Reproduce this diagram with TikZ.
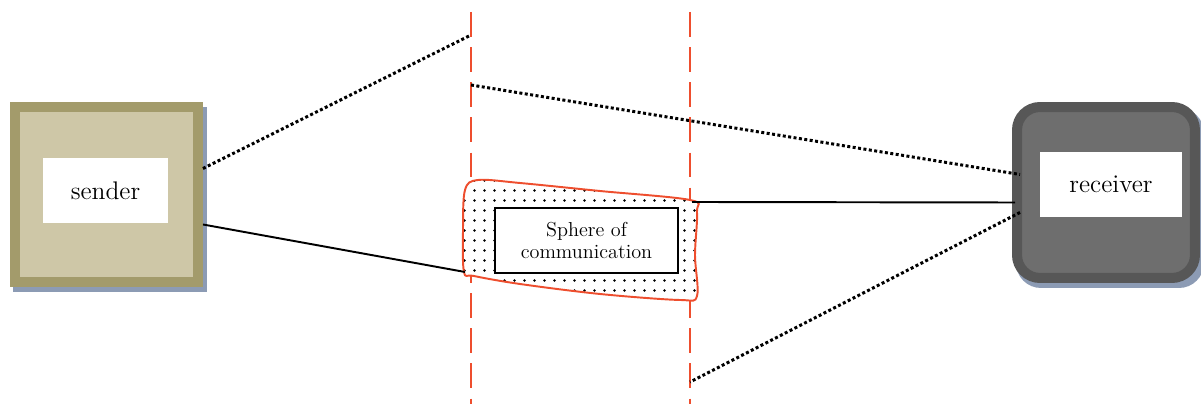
\documentclass[tikz,border=0pt]{standalone}
\usetikzlibrary{calc,patterns.meta}
\definecolor{olivebd}{HTML}{A39B6B}
\definecolor{beige}{HTML}{CEC7A7}
\definecolor{shadowc}{HTML}{8C9BB4}
\definecolor{darkbd}{HTML}{575757}
\definecolor{darkfill}{HTML}{6E6E6E}
\definecolor{redline}{HTML}{EE4E2E}
\begin{document}
\begin{tikzpicture}[x=0.02cm,y=-0.02cm,
  labelbox/.style={fill=white, draw=none, inner sep=0pt, font=\fontsize{14.5}{17}\selectfont},
  boundary/.style={draw=redline, line width=1.6pt, dash pattern=on 14pt off 6pt},
  dotline/.style={line width=1.7pt, dash pattern=on 1.7pt off 1.4pt},
  solidline/.style={line width=1.1pt},
  ]
\useasboundingbox (0,0) rectangle (1201,404);

% sender
\node[draw=olivebd, fill=beige, line width=5.7pt, minimum width=3.66cm, minimum height=3.5cm, inner sep=0pt] (sender) at (106.5,194.5) {};
\fill[shadowc] ($(sender.south west)+(3,5)$) rectangle ($(sender.south east)+(4,0)$);
\fill[shadowc] ($(sender.south east)+(0,5)$) rectangle ($(sender.north east)+(4,5)$);
\node[labelbox, minimum width=2.5cm, minimum height=1.3cm] (sendertxt) at (105.5,190.5) {sender};

% receiver
\fill[shadowc, rounded corners=0.5cm] (1016,108) rectangle (1204,288);
\node[draw=darkbd, fill=darkfill, line width=5.7pt, rounded corners=0.46cm, minimum width=3.56cm, minimum height=3.42cm, inner sep=0pt] (receiver) at (1106,192.5) {};
\node[labelbox, minimum width=2.84cm, minimum height=1.3cm] (receivertxt) at (1111,184.5) {receiver};

% boundaries
\coordinate (d1t) at (471,12);
\coordinate (d1b) at (471,404);
\coordinate (d2t) at (690,12);
\coordinate (d2b) at (690,404);
\draw[boundary] (d1t) -- (d1b);
\draw[boundary] (d2t) -- (d2b);

% sphere blob
\draw[draw=redline, line width=1.1pt, preaction={fill=white}, pattern={Dots[distance=5.4pt, radius=0.85pt]}]
  plot[smooth cycle, tension=0.55] coordinates {
   (464,272) (463,230) (465,190) (478,180) (520,183) (600,191) (690,200)
   (697,212) (695,255) (697,296) (680,300) (600,294) (520,284) (474,276)};
\node[draw=black, fill=white, line width=1.2pt, minimum width=3.66cm, minimum height=1.3cm, align=center, inner sep=0pt, font=\fontsize{11.5}{13}\selectfont] (sphere) at (586.5,240.5) {Sphere of\\communication};

% connector end points
\coordinate (s1) at ($(sender.east)+(0,-26)$);
\coordinate (s2) at ($(sender.east)+(0,30)$);
\coordinate (a1) at (471,35);
\coordinate (a2) at (471,85);
\coordinate (b1) at (690,382);
\coordinate (blobL) at (465,272);
\coordinate (blobR) at (692,202);
\coordinate (r1) at ($(receiver.west)+(8,-18)$);
\coordinate (r2) at ($(receiver.west)+(3,10)$);
\coordinate (r3) at ($(receiver.west)+(8,20)$);

\draw[dotline] (s1) -- (a1);
\draw[dotline] (a2) -- (r1);
\draw[dotline] (r3) -- (b1);
\draw[solidline] (s2) -- (blobL);
\draw[solidline] (blobR) -- (r2);
\end{tikzpicture}
\end{document}
